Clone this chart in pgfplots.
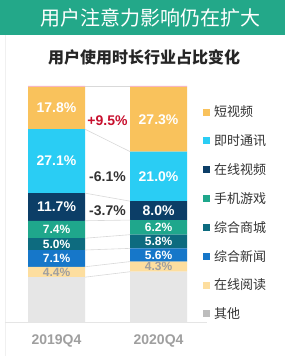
\documentclass[border=0pt]{standalone}
\usepackage{pgfplots}
\pgfplotsset{compat=1.18}
\usepackage{fontspec}
\setmainfont{Liberation Sans}
\newfontfamily\cjk{Noto Sans CJK SC}
\definecolor{banner}{HTML}{23A889}
\definecolor{cshort}{HTML}{F9C25C}
\definecolor{cim}{HTML}{2ACDF4}
\definecolor{cvideo}{HTML}{0C3E67}
\definecolor{cgame}{HTML}{1FA78C}
\definecolor{cmall}{HTML}{0D6B7F}
\definecolor{cnews}{HTML}{1677C9}
\definecolor{cread}{HTML}{FDDE9F}
\definecolor{cother}{HTML}{E6E6E6}
\definecolor{cotherleg}{HTML}{BDBDBD}
\definecolor{cpink}{HTML}{F7B6C0}
\definecolor{cred}{HTML}{C8102E}
\begin{document}
\begin{tikzpicture}
\path[use as bounding box] (0pt,0pt) rectangle (285pt,356pt);
\fill[white] (0pt,0pt) rectangle (285pt,356pt);
\fill[banner] (0pt,321pt) rectangle (285pt,356pt);
\node[text=white, font=\cjk\fontsize{20}{20}\selectfont] at (150pt,338pt) {用户注意力影响仍在扩大};
\node[text=black!85, font=\cjk\bfseries\fontsize{16}{16}\selectfont] at (144pt,299pt) {用户使用时长行业占比变化};
\draw[gray!12, line width=0.8pt] (5.5pt,0pt) -- (5.5pt,321pt);

\begin{axis}[at={(5pt,34pt)}, anchor=south west, scale only axis,
  width=202pt, height=236pt, xmin=-0.505, xmax=1.475, ymin=0, ymax=100,
  ybar stacked, bar width=57pt,
  axis y line=none, axis x line*=bottom, x axis line style={draw=gray!20, -},
  xtick={0,1}, xticklabels={2019Q4,2020Q4}, major tick length=0pt, ytick=\empty,
  x tick label style={font=\bfseries\fontsize{14}{14}\selectfont, text=gray!75, yshift=-9pt},
  legend style={at={(0.980,0.925)}, anchor=north west, draw=none, fill=none,
    font=\cjk\fontsize{13}{13}\selectfont, text=black!80, row sep=12.4pt, inner sep=0pt,
    /tikz/every odd column/.append style={column sep=2pt}},
  legend cell align=left,
  legend image code/.code={\fill[#1, draw=none] (0pt,-3.5pt) rectangle (7pt,3.5pt);},
]
\addplot[fill=cother, draw=none, forget plot] coordinates {(0,19.0) (1,21.3)};
\addplot[fill=cread, draw=none, forget plot] coordinates {(0,4.4) (1,4.3)};
\addplot[fill=cnews, draw=none, forget plot] coordinates {(0,7.1) (1,5.6)};
\addplot[fill=cmall, draw=none, forget plot] coordinates {(0,5.0) (1,5.8)};
\addplot[fill=cgame, draw=none, forget plot] coordinates {(0,7.4) (1,6.2)};
\addplot[fill=cvideo, draw=none, forget plot] coordinates {(0,11.7) (1,8.0)};
\addplot[fill=cim, draw=none, forget plot] coordinates {(0,27.1) (1,21.0)};
\addplot[fill=cshort, draw=none, forget plot] coordinates {(0,17.8) (1,27.3)};
\addplot[fill=cpink, draw=none, forget plot] coordinates {(0,0.5) (1,0.5)};
\addlegendimage{fill=cshort, draw=none}\addlegendentry{短视频}
\addlegendimage{fill=cim, draw=none}\addlegendentry{即时通讯}
\addlegendimage{fill=cvideo, draw=none}\addlegendentry{在线视频}
\addlegendimage{fill=cgame, draw=none}\addlegendentry{手机游戏}
\addlegendimage{fill=cmall, draw=none}\addlegendentry{综合商城}
\addlegendimage{fill=cnews, draw=none}\addlegendentry{综合新闻}
\addlegendimage{fill=cread, draw=none}\addlegendentry{在线阅读}
\addlegendimage{fill=cotherleg, draw=none}\addlegendentry{其他}
\end{axis}

\begin{axis}[at={(5pt,34pt)}, anchor=south west, scale only axis,
  width=202pt, height=236pt, xmin=-0.505, xmax=1.475, ymin=0, ymax=100,
  hide axis, clip=false]
\addplot[gray!30, line width=0.6pt, mark=none] coordinates {(0.279,19.0) (0.721,21.3)};
\addplot[gray!30, line width=0.6pt, mark=none] coordinates {(0.279,23.4) (0.721,25.6)};
\addplot[gray!30, line width=0.6pt, mark=none] coordinates {(0.279,30.5) (0.721,31.2)};
\addplot[gray!30, line width=0.6pt, mark=none] coordinates {(0.279,35.5) (0.721,37.0)};
\addplot[gray!30, line width=0.6pt, mark=none] coordinates {(0.279,42.9) (0.721,43.2)};
\addplot[gray!30, line width=0.6pt, mark=none] coordinates {(0.279,54.6) (0.721,51.2)};
\addplot[gray!30, line width=0.6pt, mark=none] coordinates {(0.279,81.7) (0.721,72.2)};
\addplot[gray!30, line width=0.6pt, mark=none] coordinates {(0.279,100) (0.721,100)};
% big white labels
\addplot[draw=none, mark=none, nodes near coords, point meta=explicit symbolic,
  every node near coord/.append style={anchor=center, text=white, font=\bfseries\fontsize{14}{14}\selectfont}]
  coordinates {(0,90.6)[17.8\%] (1,85.85)[27.3\%] (0,68.15)[27.1\%] (1,61.7)[21.0\%] (0,48.75)[11.7\%] (1,47.2)[8.0\%]};
% small white labels
\addplot[draw=none, mark=none, nodes near coords, point meta=explicit symbolic,
  every node near coord/.append style={anchor=center, text=white, font=\bfseries\fontsize{12}{12}\selectfont}]
  coordinates {(0,39.2)[7.4\%] (1,40.1)[6.2\%] (0,33.0)[5.0\%] (1,34.1)[5.8\%] (0,26.95)[7.1\%] (1,28.4)[5.6\%]};
% gray labels
\addplot[draw=none, mark=none, nodes near coords, point meta=explicit symbolic,
  every node near coord/.append style={anchor=center, text=gray!75, font=\bfseries\fontsize{12}{12}\selectfont}]
  coordinates {(0,21.2)[4.4\%] (1,23.45)[4.3\%]};
% differences
\addplot[draw=none, mark=none, nodes near coords, point meta=explicit symbolic,
  every node near coord/.append style={anchor=center, text=cred, font=\bfseries\fontsize{14}{14}\selectfont}]
  coordinates {(0.5,85.2)[+9.5\%]};
\addplot[draw=none, mark=none, nodes near coords, point meta=explicit symbolic,
  every node near coord/.append style={anchor=center, text=black!80, font=\bfseries\fontsize{14}{14}\selectfont}]
  coordinates {(0.5,61.4)[-6.1\%] (0.5,47.0)[-3.7\%]};
\end{axis}
\end{tikzpicture}
\end{document}
